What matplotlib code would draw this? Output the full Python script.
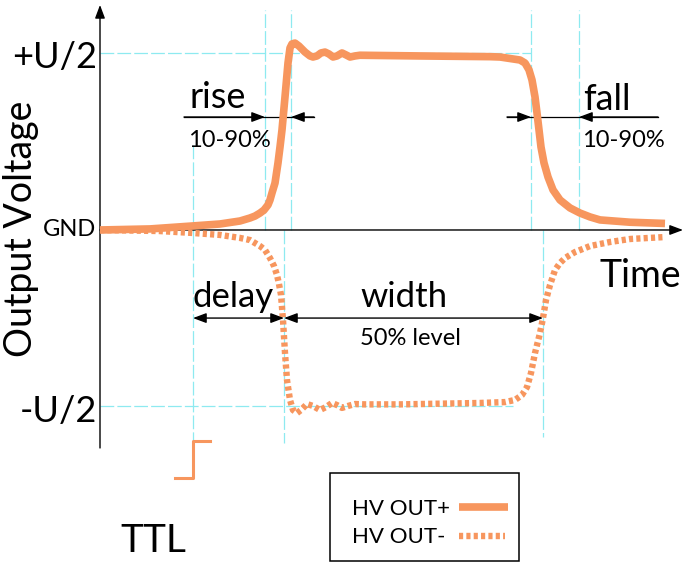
import matplotlib.pyplot as plt
from matplotlib.patches import Rectangle

plt.rcParams['font.family'] = ['Lato', 'DejaVu Sans']

# time axis (t = 0 at the voltage axis), voltage in % of U/2
t_pos = [0, 50, 93, 120, 140, 150, 155, 160, 164, 168, 170, 172, 175, 178, 180, 182,
         185, 188, 190, 192, 195, 199, 205, 210, 213, 217, 221, 225, 229, 233, 237,
         242, 246, 250, 255, 260, 320, 390, 400, 420, 425, 429, 432, 435, 437, 439,
         441, 444, 448, 453, 460, 470, 480, 490, 500, 530, 565]
v_pos = [0, 0.6, 2.3, 3.4, 5.1, 6.8, 7.9, 9.6, 11.3, 14.2, 17.0, 21.0, 26.6, 38.0,
         47.0, 56.7, 75.4, 94.6, 103.1, 105.4, 105.9, 104.2, 100.8, 98.6, 98.0, 98.6,
         100.3, 100.8, 99.7, 98.0, 98.6, 100.3, 99.2, 98.0, 98.6, 99.0, 98.6, 98.2,
         98.0, 96.3, 94.6, 90.7, 85.0, 75.4, 66.3, 56.7, 47.0, 38.0, 30.0, 22.7, 17.0,
         12.5, 9.6, 7.4, 5.7, 4.4, 3.7]

t_neg = [0, 60, 93, 120, 140, 150, 160, 165, 170, 174, 177, 179, 181, 183, 185, 187,
         190, 193, 197, 201, 207, 213, 220, 226, 232, 237, 242, 248, 255, 265, 300,
         380, 405, 415, 422, 427, 431, 435, 440, 443, 446, 450, 455, 460, 465, 475,
         490, 510, 530, 565]
v_neg = [0, -0.6, -1.7, -2.8, -4.5, -5.7, -9.1, -11.3, -15.9, -20.4, -25.5, -30.6,
         -36.8, -51.0, -69.7, -85.0, -96.3, -102.0, -103.7, -102.0, -98.6, -99.7,
         -102.0, -100.3, -98.0, -99.2, -100.8, -99.7, -98.6, -98.8, -98.8, -98.0,
         -97.5, -96.3, -93.5, -89.0, -81.0, -69.7, -58.4, -49.9, -39.7, -31.2, -22.7,
         -18.7, -15.9, -12.5, -9.1, -6.8, -5.1, -4.0]

ttl_t = [75, 93, 93, 110]
ttl_v = [-140.5, -140.5, -119.5, -119.5]

# marker times: delay start, rise 10%, neg 50%, rise 90%, fall 90%, neg 50%, fall 10%
t_delay0, t_r10, t_n50a, t_r90 = 93, 165, 184, 191
t_f90, t_n50b, t_f10 = 431, 443, 479

orange = '#f7965e'
cyan = '#8eeaf0'
guide = dict(color=cyan, lw=0.9, ls=(0, (11, 2.5)), zorder=1)
solid = dict(color=orange, lw=5.5, solid_capstyle='butt', solid_joinstyle='round')
dotted = dict(color=orange, lw=4.6, ls=(0, (0.65, 0.5)), dash_capstyle='butt',
              dash_joinstyle='round')

fig = plt.figure(figsize=(6.84, 5.62), dpi=100)
ax = fig.add_axes([0, 0, 1, 1])
ax.set_xlim(-100, 584)
ax.set_ylim(-188.1, 130.3)
ax.axis('off')

# guide lines
for t in [t_r10, t_r90, t_f90, t_f10]:
    ax.plot([t, t], [0, 124.6], **guide)
ax.plot([t_delay0, t_delay0], [48, -140.5], **guide)
ax.plot([t_n50a, t_n50a], [0, -120.7], **guide)
ax.plot([t_n50b, t_n50b], [0, -117], **guide)
ax.plot([0, t_f90], [100, 100], **guide)
ax.plot([0, 413], [-100, -100], **guide)

# axes with arrows
arr = dict(arrowstyle='-|>,head_length=0.8,head_width=0.3', lw=1, color='k',
           shrinkA=0, shrinkB=0)
ax.annotate('', xy=(0, 127.5), xytext=(0, -123.5), arrowprops=arr)
ax.annotate('', xy=(583, 0), xytext=(0, 0), arrowprops=arr)

# curves
ax.plot(t_neg, v_neg, zorder=3, **dotted)
ax.plot(t_pos, v_pos, zorder=4, **solid)
ax.plot(ttl_t, ttl_v, color=orange, lw=2.2, zorder=4)

# dimension arrows
ax.plot([84, 214], [64, 64], color='k', lw=0.9)
ax.annotate('', xy=(t_r10, 64), xytext=(84, 64), arrowprops=arr)
ax.annotate('', xy=(t_r90, 64), xytext=(214, 64), arrowprops=arr)
ax.plot([407, 558], [64, 64], color='k', lw=0.9)
ax.annotate('', xy=(t_f90, 64), xytext=(407, 64), arrowprops=arr)
ax.annotate('', xy=(t_f10, 64), xytext=(558, 64), arrowprops=arr)
arr2 = dict(arr, arrowstyle='<|-|>,head_length=0.8,head_width=0.3')
ax.annotate('', xy=(t_n50a, -49.9), xytext=(t_delay0, -49.9), arrowprops=arr2)
ax.annotate('', xy=(t_n50b, -49.9), xytext=(t_n50a, -49.9), arrowprops=arr2)

# labels
ax.text(-3, 91.8, '+U/2', fontsize=26, ha='right', va='baseline')
ax.text(-3, -108.8, '-U/2', fontsize=26, ha='right', va='baseline')
ax.text(-4, -3.4, 'GND', fontsize=17, ha='right', va='baseline')
ax.text(-68, 0.6, 'Output Voltage', fontsize=27, rotation=90, rotation_mode='anchor',
        ha='center', va='baseline')
ax.text(500, -32.3, 'Time', fontsize=27, ha='left', va='baseline')
ax.text(20, -182.4, 'TTL', fontsize=28, ha='left', va='baseline')
ax.text(90, 69.1, 'rise', fontsize=26, ha='left', va='baseline')
ax.text(88, 47, '10-90%', fontsize=17, ha='left', va='baseline')
ax.text(483, 68, 'fall', fontsize=26, ha='left', va='baseline')
ax.text(482, 47, '10-90%', fontsize=17, ha='left', va='baseline')
ax.text(93, -43.6, 'delay', fontsize=25, ha='left', va='baseline')
ax.text(260, -43.6, 'width', fontsize=25, ha='left', va='baseline')
ax.text(260, -65.2, '50% level', fontsize=17, ha='left', va='baseline')

# legend box, text on the left and line samples on the right
ax.add_patch(Rectangle((230, -187.5), 189, 49.8, fill=False, ec='k', lw=1.1,
                       transform=ax.transData, zorder=5))
ax.text(252, -161.5, 'HV OUT+', fontsize=16, ha='left', va='baseline')
ax.text(252, -177.3, 'HV OUT-', fontsize=16, ha='left', va='baseline')
ax.plot([359, 408], [-156.9, -156.9], **solid)
ax.plot([359, 405], [-173.4, -173.4], **dotted)

fig.savefig('out.png', dpi=100)
